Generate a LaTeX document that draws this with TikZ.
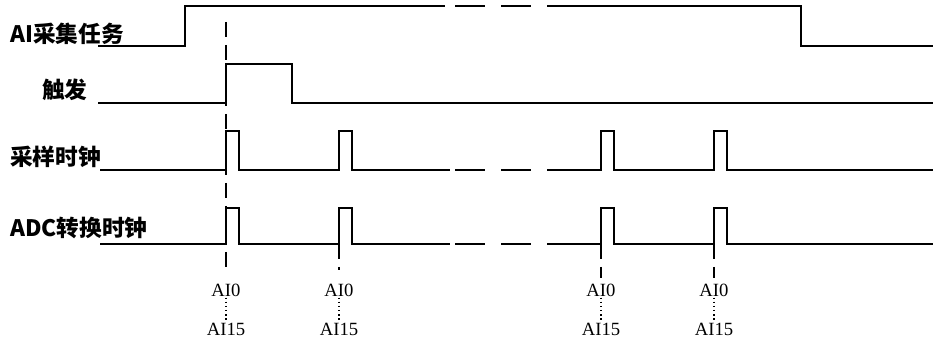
\documentclass[tikz,border=0pt]{standalone}
\usepackage{fontspec}
\setmainfont{Liberation Serif}
\newfontfamily\cjkfont{Noto Sans CJK SC}

\begin{document}
\begin{tikzpicture}[x=0.75pt,y=0.75pt,yscale=-1,xscale=1,
  sigline/.style={line width=1.1pt},
  guide/.style={line width=1.1pt, dash pattern=on 11.25pt off 6pt},
  chlabel/.style={anchor=west, inner sep=0pt, font=\cjkfont\bfseries\fontsize{17}{20}\selectfont},
  chan/.style={inner sep=0.75pt, font=\fontsize{14}{16}\selectfont}]
\useasboundingbox (0,0) rectangle (933,342); %set diagram size 933 x 342

% Text Node
\node [chlabel] (lbltask) at (10,34) {AI采集任务};
\node [chlabel] (lbltrig) at (42,90) {触发};
\node [chlabel] (lblsamp) at (10,157) {采样时钟};
\node [chlabel] (lbladc) at (10,228) {ADC转换时钟};

%Straight Lines: task
\draw [sigline] (98,46) -- (185,46) -- (185,6) -- (445,6) ;
\draw [sigline] (455,6) -- (485,6) (501,6) -- (531,6) ;
\draw [sigline] (547,6) -- (801,6) -- (801,46) -- (933,46) ;

%Straight Lines: trigger
\draw [sigline] (98,103) -- (226,103) -- (226,64) -- (292,64) -- (292,103) -- (933,103) ;

%Straight Lines: sample clock
\draw [sigline] (100,170) -- (226,170) -- (226,131) -- (239,131) -- (239,170) -- (339,170) -- (339,131) -- (352,131) -- (352,170) -- (450,170) ;
\draw [sigline] (455,170) -- (485,170) (501,170) -- (531,170) ;
\draw [sigline] (547,170) -- (601,170) -- (601,131) -- (614,131) -- (614,170) -- (714,170) -- (714,131) -- (727,131) -- (727,170) -- (933,170) ;

%Straight Lines: ADC clock
\draw [sigline] (100,244) -- (226,244) -- (226,208) -- (239,208) -- (239,244) -- (339,244) -- (339,208) -- (352,208) -- (352,244) -- (450,244) ;
\draw [sigline] (455,244) -- (485,244) (501,244) -- (531,244) ;
\draw [sigline] (547,244) -- (601,244) -- (601,208) -- (614,208) -- (614,244) -- (714,244) -- (714,208) -- (727,208) -- (727,244) -- (933,244) ;

%Dashed Lines
\draw [guide] (226,22) -- (226,267) ;
\draw [guide] (339,244) -- (339,270) ;
\draw [guide] (601,244) -- (601,278) ;
\draw [guide] (714,244) -- (714,278) ;

% Channel Nodes
\foreach \px/\nm in {226/a,339/b,601/c,714/d}{
  \node [chan] (ai0\nm) at (\px,290) {AI0};
  \node [chan] (ai15\nm) at (\px,329) {AI15};
  \draw [line width=1.1pt, dotted] (ai0\nm) -- (ai15\nm) ;
}

\end{tikzpicture}
\end{document}
